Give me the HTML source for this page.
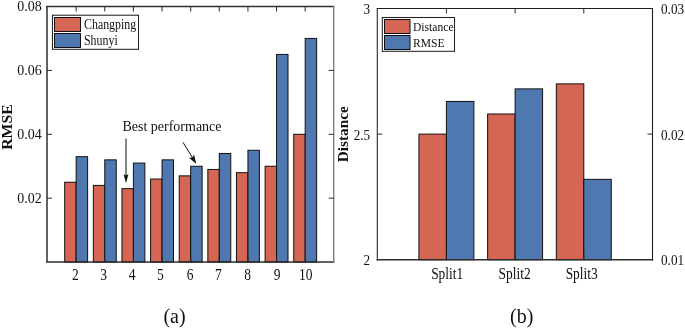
<!DOCTYPE html>
<html><head><meta charset="utf-8"><style>
html,body{margin:0;padding:0;background:#fff;}
body{width:685px;height:328px;overflow:hidden;}
svg{display:block;will-change:transform;font-family:"Liberation Serif",serif;}
text{fill:#111;}
</style></head><body>
<svg width="685" height="328" viewBox="0 0 685 328">
<rect width="685" height="328" fill="#fff"/>
<rect x="64.70" y="182.23" width="11.45" height="79.88" fill="#D56654" stroke="#111" stroke-width="1"/>
<rect x="76.15" y="156.67" width="11.45" height="105.44" fill="#4F78B1" stroke="#111" stroke-width="1"/>
<rect x="93.33" y="185.42" width="11.45" height="76.68" fill="#D56654" stroke="#111" stroke-width="1"/>
<rect x="104.78" y="159.86" width="11.45" height="102.24" fill="#4F78B1" stroke="#111" stroke-width="1"/>
<rect x="121.96" y="188.62" width="11.45" height="73.49" fill="#D56654" stroke="#111" stroke-width="1"/>
<rect x="133.41" y="163.06" width="11.45" height="99.05" fill="#4F78B1" stroke="#111" stroke-width="1"/>
<rect x="150.59" y="179.03" width="11.45" height="83.07" fill="#D56654" stroke="#111" stroke-width="1"/>
<rect x="162.04" y="159.86" width="11.45" height="102.24" fill="#4F78B1" stroke="#111" stroke-width="1"/>
<rect x="179.22" y="175.84" width="11.45" height="86.26" fill="#D56654" stroke="#111" stroke-width="1"/>
<rect x="190.67" y="166.25" width="11.45" height="95.85" fill="#4F78B1" stroke="#111" stroke-width="1"/>
<rect x="207.85" y="169.45" width="11.45" height="92.66" fill="#D56654" stroke="#111" stroke-width="1"/>
<rect x="219.30" y="153.47" width="11.45" height="108.63" fill="#4F78B1" stroke="#111" stroke-width="1"/>
<rect x="236.48" y="172.64" width="11.45" height="89.46" fill="#D56654" stroke="#111" stroke-width="1"/>
<rect x="247.93" y="150.28" width="11.45" height="111.83" fill="#4F78B1" stroke="#111" stroke-width="1"/>
<rect x="265.11" y="166.25" width="11.45" height="95.85" fill="#D56654" stroke="#111" stroke-width="1"/>
<rect x="276.56" y="54.43" width="11.45" height="207.68" fill="#4F78B1" stroke="#111" stroke-width="1"/>
<rect x="293.74" y="134.30" width="11.45" height="127.80" fill="#D56654" stroke="#111" stroke-width="1"/>
<rect x="305.19" y="38.45" width="11.45" height="223.65" fill="#4F78B1" stroke="#111" stroke-width="1"/>
<path d="M46.20 6.5H334.40" stroke="#303030" stroke-width="1.3"/>
<path d="M46.20 261.9H334.40" stroke="#2c2c2c" stroke-width="1.5"/>
<path d="M47.00 5.9V262.6" stroke="#3a3a3a" stroke-width="1.6"/>
<path d="M333.70 5.9V262.6" stroke="#808080" stroke-width="1.4"/>
<path d="M76.15 262.10V257.10M76.15 6.50V11.50M104.78 262.10V257.10M104.78 6.50V11.50M133.41 262.10V257.10M133.41 6.50V11.50M162.04 262.10V257.10M162.04 6.50V11.50M190.67 262.10V257.10M190.67 6.50V11.50M219.30 262.10V257.10M219.30 6.50V11.50M247.93 262.10V257.10M247.93 6.50V11.50M276.56 262.10V257.10M276.56 6.50V11.50M305.19 262.10V257.10M305.19 6.50V11.50M47.00 198.20H52.00M333.70 198.20H328.70M47.00 134.30H52.00M333.70 134.30H328.70M47.00 70.40H52.00M333.70 70.40H328.70" stroke="#2a2a2a" stroke-width="1" fill="none"/>
<text transform="translate(75.30,279.60) scale(1.0,1.18)" text-anchor="middle" font-size="13.5">2</text><text transform="translate(103.60,279.60) scale(1.0,1.18)" text-anchor="middle" font-size="13.5">3</text><text transform="translate(132.00,279.60) scale(1.0,1.18)" text-anchor="middle" font-size="13.5">4</text><text transform="translate(160.45,279.60) scale(1.0,1.18)" text-anchor="middle" font-size="13.5">5</text><text transform="translate(190.10,279.60) scale(1.0,1.18)" text-anchor="middle" font-size="13.5">6</text><text transform="translate(218.40,279.60) scale(1.0,1.18)" text-anchor="middle" font-size="13.5">7</text><text transform="translate(247.55,279.60) scale(1.0,1.18)" text-anchor="middle" font-size="13.5">8</text><text transform="translate(277.15,279.60) scale(1.0,1.18)" text-anchor="middle" font-size="13.5">9</text><text transform="translate(305.75,279.60) scale(1.0,1.18)" text-anchor="middle" font-size="13.5">10</text><text transform="translate(41.80,202.90) scale(1.0,1.11)" text-anchor="end" font-size="14">0.02</text><text transform="translate(41.80,139.00) scale(1.0,1.11)" text-anchor="end" font-size="14">0.04</text><text transform="translate(41.80,75.10) scale(1.0,1.11)" text-anchor="end" font-size="14">0.06</text><text transform="translate(41.80,11.20) scale(1.0,1.11)" text-anchor="end" font-size="14">0.08</text>
<text transform="translate(11.80,127.00) scale(1.0,1.09) rotate(-90)" text-anchor="middle" font-size="14.5" font-weight="bold">RMSE</text>
<rect x="52.45" y="15.2" width="86.05" height="34.1" fill="#fff" stroke="#222" stroke-width="1.05"/>
<rect x="54.5" y="17.5" width="26" height="14" fill="#D56654" stroke="#111" stroke-width="1"/>
<rect x="54.5" y="33.5" width="26" height="14" fill="#4F78B1" stroke="#111" stroke-width="1"/>
<text transform="translate(84.00,28.90) scale(0.945,1.12)" text-anchor="start" font-size="12.6">Changping</text>
<text transform="translate(84.00,44.50) scale(0.945,1.12)" text-anchor="start" font-size="12.6">Shunyi</text>
<text transform="translate(172.00,131.00) scale(1.0,1.06)" text-anchor="middle" font-size="14">Best performance</text>
<path d="M126 138.5V176" stroke="#111" stroke-width="1"/>
<path d="M123.6 174.2L126 175.6L128.4 174.2L126 183.2Z" fill="#111"/>
<path d="M183 142.4L192.5 157.7" stroke="#111" stroke-width="1"/>
<path d="M189.0 157.8L192.35 157.5L194.1 154.7L196.3 163.9Z" fill="#111"/>
<text transform="translate(174.50,323.00) scale(1.0,1.0)" text-anchor="middle" font-size="20">(a)</text>
<rect x="418.92" y="134.10" width="27.48" height="125.60" fill="#D56654" stroke="#111" stroke-width="1"/>
<rect x="446.40" y="101.44" width="27.48" height="158.26" fill="#4F78B1" stroke="#111" stroke-width="1"/>
<rect x="487.62" y="114.00" width="27.48" height="145.70" fill="#D56654" stroke="#111" stroke-width="1"/>
<rect x="515.10" y="88.88" width="27.48" height="170.82" fill="#4F78B1" stroke="#111" stroke-width="1"/>
<rect x="556.32" y="83.86" width="27.48" height="175.84" fill="#D56654" stroke="#111" stroke-width="1"/>
<rect x="583.80" y="179.32" width="27.48" height="80.38" fill="#4F78B1" stroke="#111" stroke-width="1"/>
<path d="M376.70 8.50H653.10" stroke="#1e1e1e" stroke-width="1.2"/>
<path d="M376.70 259.70H653.10" stroke="#2c2c2c" stroke-width="1.5"/>
<path d="M377.30 7.90V260.40" stroke="#2a2a2a" stroke-width="1.1"/>
<path d="M652.50 7.90V260.40" stroke="#1e1e1e" stroke-width="1.1"/>
<path d="M446.40 259.70V254.70M446.40 8.50V13.50M515.10 259.70V254.70M515.10 8.50V13.50M583.80 259.70V254.70M583.80 8.50V13.50M377.30 134.10H382.30M652.50 134.10H647.50" stroke="#2a2a2a" stroke-width="1" fill="none"/>
<text transform="translate(447.20,279.00) scale(0.975,1.17)" text-anchor="middle" font-size="13.8">Split1</text><text transform="translate(514.60,279.00) scale(0.975,1.17)" text-anchor="middle" font-size="13.8">Split2</text><text transform="translate(581.70,279.00) scale(0.975,1.17)" text-anchor="middle" font-size="13.8">Split3</text><text transform="translate(370.20,265.30) scale(1.0,1.15)" text-anchor="end" font-size="13.2">2</text><text transform="translate(370.20,139.70) scale(1.0,1.15)" text-anchor="end" font-size="13.2">2.5</text><text transform="translate(370.20,14.10) scale(1.0,1.15)" text-anchor="end" font-size="13.2">3</text><text transform="translate(661.00,265.30) scale(1.0,1.15)" text-anchor="start" font-size="13.2">0.01</text><text transform="translate(661.00,139.70) scale(1.0,1.15)" text-anchor="start" font-size="13.2">0.02</text><text transform="translate(661.00,14.10) scale(1.0,1.15)" text-anchor="start" font-size="13.2">0.03</text>
<text transform="translate(348.00,134.20) scale(1.0,1.09) rotate(-90)" text-anchor="middle" font-size="14" font-weight="bold">Distance</text>
<rect x="382.3" y="17.5" width="72.2" height="33.8" fill="#fff" stroke="#222" stroke-width="1.05"/>
<rect x="384.5" y="19.5" width="25.5" height="14" fill="#D56654" stroke="#111" stroke-width="1"/>
<rect x="384.5" y="35.5" width="25.5" height="14" fill="#4F78B1" stroke="#111" stroke-width="1"/>
<text transform="translate(413.00,31.00) scale(1.0,1.12)" text-anchor="start" font-size="11.6">Distance</text>
<text transform="translate(413.00,46.50) scale(1.0,1.12)" text-anchor="start" font-size="11.6">RMSE</text>
<text transform="translate(521.70,323.00) scale(1.0,1.0)" text-anchor="middle" font-size="20">(b)</text>
</svg>
</body></html>
